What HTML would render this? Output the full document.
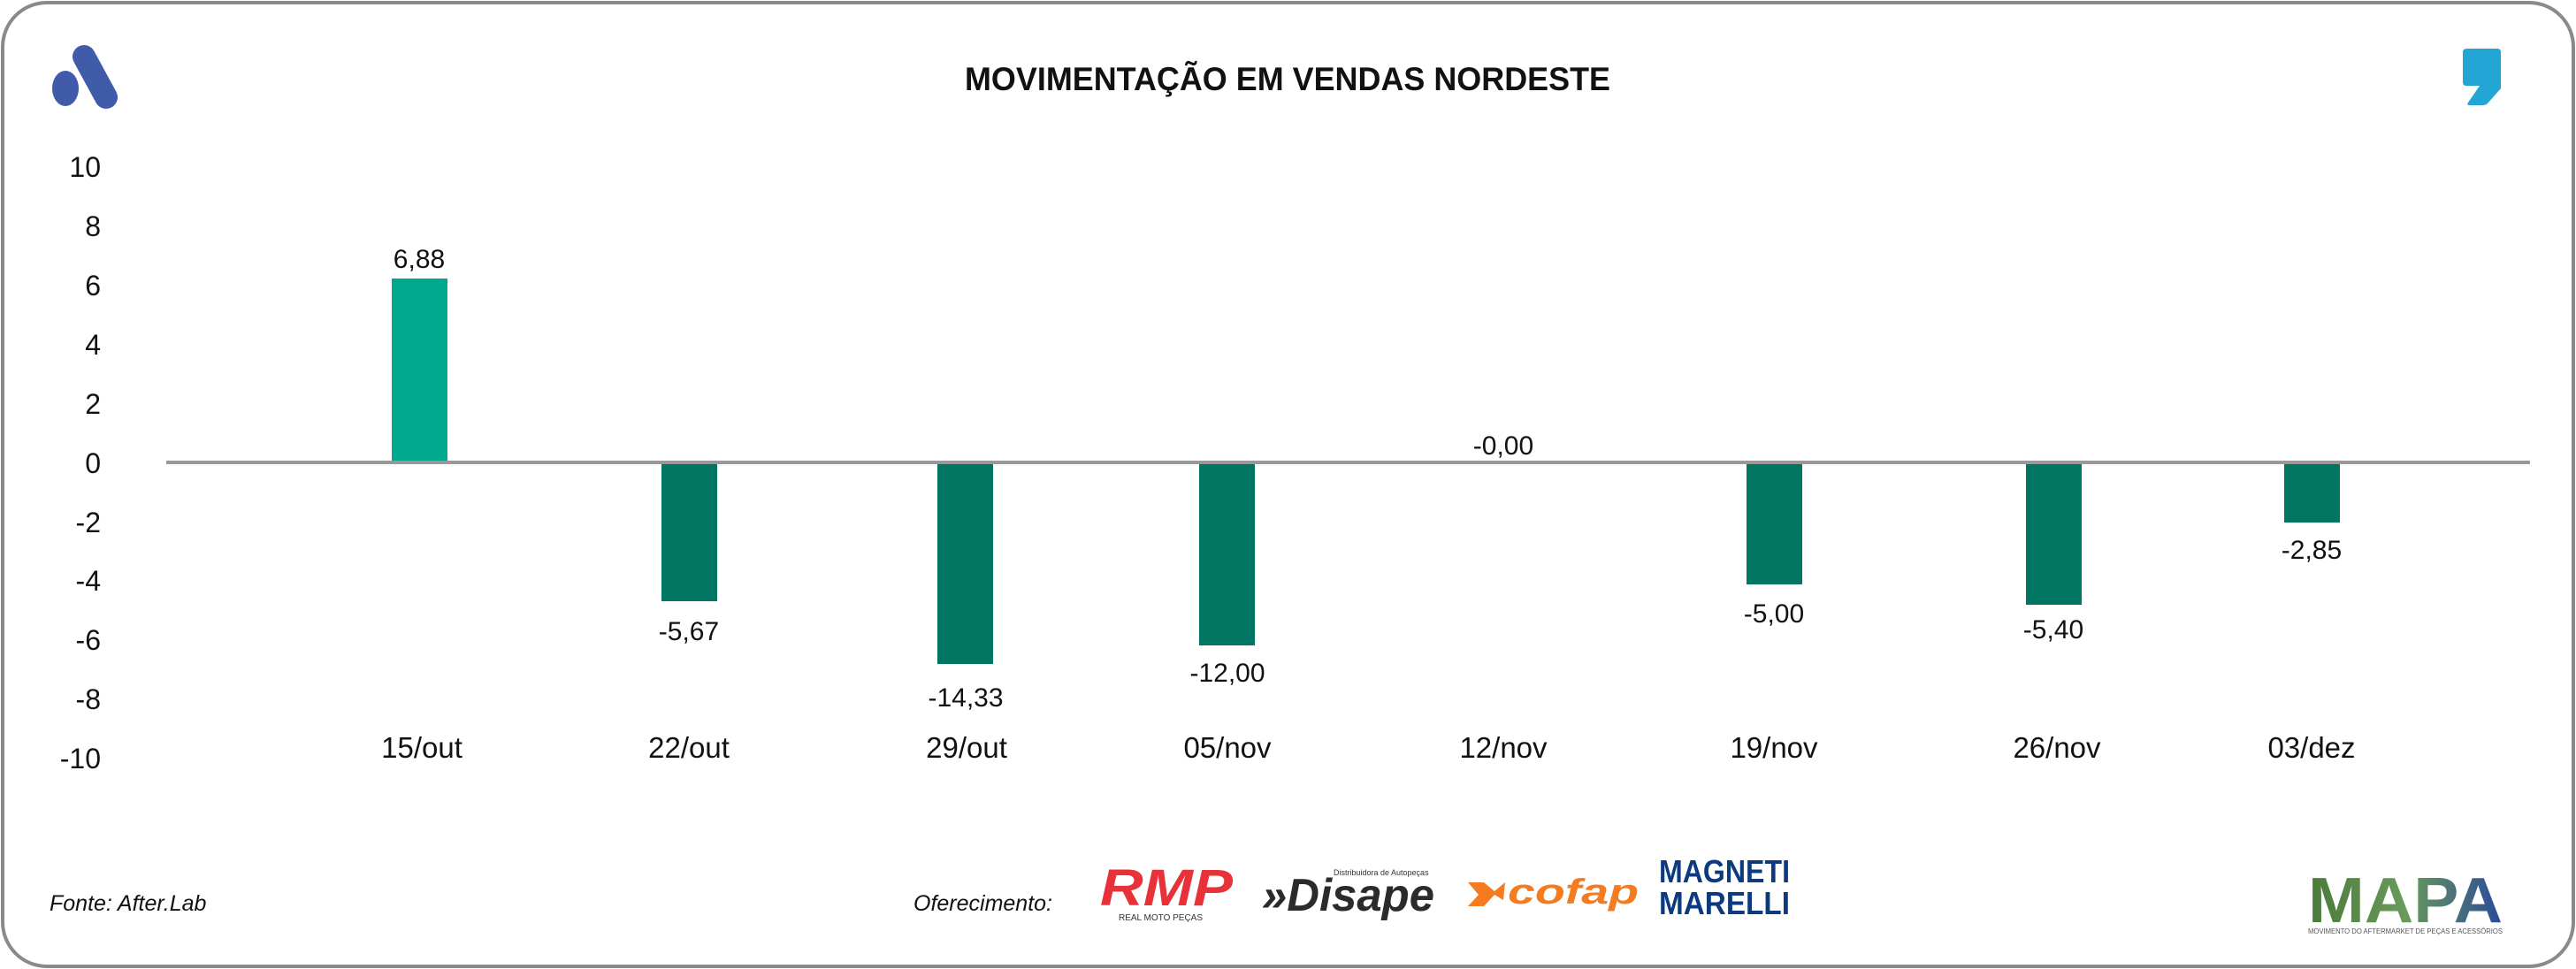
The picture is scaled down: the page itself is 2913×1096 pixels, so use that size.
<!DOCTYPE html>
<html><head><meta charset="utf-8"><style>
html,body{margin:0;padding:0;background:#fff;}
svg{display:block;}
text{font-family:"Liberation Sans",sans-serif;}
</style></head><body>
<svg width="2913" height="1096" viewBox="0 0 2913 1096" xmlns="http://www.w3.org/2000/svg">
<rect x="3" y="3" width="2907" height="1090" rx="50" ry="50" fill="#fff" stroke="#8a8a8a" stroke-width="4"/>
<g fill="#3F5BAA">
<line x1="95" y1="64" x2="120" y2="110" stroke="#3F5BAA" stroke-width="26" stroke-linecap="round"/>
<ellipse cx="74" cy="100" rx="15" ry="20"/>
</g>
<path d="M2790 55 H2824 Q2828 55 2828 59 V100 L2813 117 Q2811 119 2807 119 H2792 Q2789 119 2791 116 L2804 97 H2789 Q2785 97 2785 93 V59 Q2785 55 2790 55Z" fill="#23A6D5"/>
<text x="1456" y="102" text-anchor="middle" font-size="37" font-weight="bold" fill="#111" textLength="730" lengthAdjust="spacingAndGlyphs">MOVIMENTAÇÃO EM VENDAS NORDESTE</text>
<g font-size="32" fill="#111" text-anchor="end">
<text x="114" y="200">10</text>
<text x="114" y="267">8</text>
<text x="114" y="334">6</text>
<text x="114" y="401">4</text>
<text x="114" y="468">2</text>
<text x="114" y="535">0</text>
<text x="114" y="602">-2</text>
<text x="114" y="668">-4</text>
<text x="114" y="735">-6</text>
<text x="114" y="802">-8</text>
<text x="114" y="869">-10</text>
</g>
<rect x="443" y="315" width="63" height="207" fill="#00A88E"/>
<rect x="748" y="522" width="63" height="158" fill="#007562"/>
<rect x="1060" y="522" width="63" height="229" fill="#007562"/>
<rect x="1356" y="522" width="63" height="208" fill="#007562"/>
<rect x="1975" y="522" width="63" height="139" fill="#007562"/>
<rect x="2291" y="522" width="63" height="162" fill="#007562"/>
<rect x="2583" y="522" width="63" height="69" fill="#007562"/>
<line x1="188" y1="523" x2="2861" y2="523" stroke="#999" stroke-width="4"/>
<g font-size="30" fill="#111" text-anchor="middle">
<text x="474" y="303">6,88</text>
<text x="779" y="724">-5,67</text>
<text x="1092" y="799">-14,33</text>
<text x="1388" y="771">-12,00</text>
<text x="1700" y="514">-0,00</text>
<text x="2006" y="704">-5,00</text>
<text x="2322" y="722">-5,40</text>
<text x="2614" y="632">-2,85</text>
</g>
<g font-size="33" fill="#111" text-anchor="middle">
<text x="477" y="857">15/out</text>
<text x="779" y="857">22/out</text>
<text x="1093" y="857">29/out</text>
<text x="1388" y="857">05/nov</text>
<text x="1700" y="857">12/nov</text>
<text x="2006" y="857">19/nov</text>
<text x="2326" y="857">26/nov</text>
<text x="2614" y="857">03/dez</text>
</g>
<text x="56" y="1030" font-size="25" font-style="italic" fill="#111">Fonte: After.Lab</text>
<text x="1033" y="1030" font-size="25" font-style="italic" fill="#111">Oferecimento:</text>
<text x="1244" y="1024" font-size="58" font-weight="bold" font-style="italic" fill="#E8323A" textLength="150" lengthAdjust="spacingAndGlyphs">RMP</text>
<text x="1265" y="1041" font-size="10" fill="#333">REAL MOTO PEÇAS</text>
<text x="1427" y="1030" font-size="52" font-weight="bold" font-style="italic" fill="#2b2b2b" textLength="195" lengthAdjust="spacingAndGlyphs">»Disape</text>
<text x="1508" y="990" font-size="9" fill="#333">Distribuidora de Autopeças</text>
<path d="M1660 998 L1678 998 L1690 1008 L1702 998 L1700 1018 L1690 1012 L1678 1025 L1660 1025 L1672 1012Z" fill="#F47B20"/>
<text x="1705" y="1022" font-size="40" font-weight="bold" font-style="italic" fill="#F47B20" textLength="148" lengthAdjust="spacingAndGlyphs">cofap</text>
<text x="1876" y="998" font-size="36" font-weight="bold" fill="#0B3A7E" textLength="148" lengthAdjust="spacingAndGlyphs">MAGNETI</text>
<text x="1876" y="1034" font-size="36" font-weight="bold" fill="#0B3A7E" textLength="148" lengthAdjust="spacingAndGlyphs">MARELLI</text>
<defs><linearGradient id="mg" x1="0" y1="0" x2="1" y2="0"><stop offset="0" stop-color="#4a7a3a"/><stop offset="0.5" stop-color="#6a9a5a"/><stop offset="1" stop-color="#2a4a9a"/></linearGradient></defs>
<text x="2610" y="1043" font-size="72" font-weight="bold" fill="url(#mg)" textLength="220" lengthAdjust="spacingAndGlyphs">MAPA</text>
<text x="2610" y="1056" font-size="8" fill="#555" textLength="220" lengthAdjust="spacingAndGlyphs">MOVIMENTO DO AFTERMARKET DE PEÇAS E ACESSÓRIOS</text>
</svg>
</body></html>
